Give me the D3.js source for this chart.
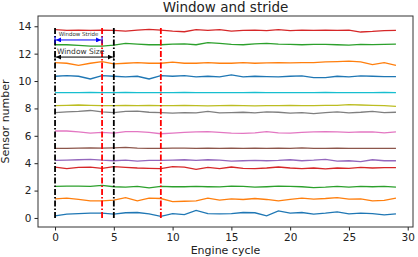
<!DOCTYPE html>
<html>
<head>
<meta charset="utf-8">
<script src="https://cdn.jsdelivr.net/npm/d3@7"></script>
<style>
body { margin: 0; background: #fff; }
svg { display: block; font-family: "DejaVu Sans", sans-serif; }
</style>
</head>
<body>
<script>
// cycles 0..29
var cycles = d3.range(30);

var s0 = [0.15,0.28,0.32,0.35,0.35,0.28,0.38,0.4,0.3,0.12,0.32,0.25,0.55,0.32,0.3,0.32,0.4,0.38,0.15,0.52,0.35,0.4,0.28,0.35,0.45,0.3,0.35,0.32,0.22,0.3];
var s1 = [1.4,1.45,1.35,1.25,1.25,1.3,1.48,1.25,1.45,1.42,1.2,1.22,1.25,1.45,1.3,1.4,1.35,1.42,1.35,1.25,1.35,1.45,1.38,1.42,1.48,1.38,1.4,1.25,1.28,1.45];
var s2 = [2.3,2.32,2.33,2.3,2.38,2.28,2.25,2.3,2.2,2.3,2.28,2.28,2.3,2.28,2.27,2.32,2.3,2.25,2.28,2.32,2.3,2.28,2.22,2.25,2.3,2.25,2.3,2.28,2.3,2.25];
var s3 = [3.72,3.6,3.7,3.72,3.62,3.75,3.7,3.65,3.62,3.6,3.75,3.72,3.55,3.7,3.6,3.72,3.62,3.6,3.65,3.72,3.65,3.6,3.65,3.58,3.65,3.62,3.7,3.65,3.68,3.68];
var s4 = [4.2,4.22,4.25,4.28,4.22,4.18,4.22,4.15,4.2,4.2,4.22,4.25,4.2,4.25,4.22,4.15,4.18,4.2,4.18,4.2,4.25,4.18,4.22,4.28,4.15,4.18,4.12,4.25,4.18,4.18];
var s5 = [5.08,5.08,5.1,5.12,5.1,5.12,5.15,5.1,5.08,5.08,5.1,5.1,5.08,5.1,5.08,5.1,5.08,5.1,5.08,5.1,5.08,5.12,5.08,5.08,5.1,5.08,5.08,5.08,5.08,5.08];
var s6 = [6.35,6.35,6.28,6.2,6.25,6.2,6.3,6.3,6.25,6.15,6.2,6.25,6.28,6.3,6.25,6.2,6.18,6.22,6.3,6.22,6.2,6.25,6.28,6.3,6.28,6.25,6.28,6.28,6.22,6.28];
var s7 = [7.7,7.75,7.78,7.85,7.75,7.7,7.78,7.8,7.72,7.7,7.65,7.7,7.68,7.78,7.68,7.7,7.72,7.68,7.75,7.72,7.65,7.7,7.62,7.7,7.75,7.68,7.72,7.78,7.7,7.72];
var s8 = [8.2,8.22,8.25,8.22,8.2,8.2,8.22,8.2,8.22,8.2,8.2,8.22,8.2,8.18,8.2,8.22,8.2,8.18,8.2,8.2,8.22,8.2,8.2,8.22,8.22,8.28,8.25,8.22,8.2,8.15];
var s9 = [9.15,9.15,9.15,9.17,9.15,9.15,9.17,9.15,9.15,9.15,9.15,9.17,9.15,9.15,9.15,9.15,9.15,9.17,9.15,9.15,9.15,9.15,9.15,9.17,9.15,9.15,9.15,9.15,9.17,9.15];
var s10 = [10.35,10.4,10.35,10.15,10.4,10.35,10.3,10.35,10.15,10.4,10.35,10.4,10.3,10.35,10.3,10.45,10.3,10.35,10.32,10.3,10.35,10.38,10.25,10.25,10.35,10.3,10.38,10.35,10.32,10.32];
var s11 = [11.35,11.3,11.15,11.3,11.42,11.25,11.3,11.35,11.3,11.3,11.38,11.3,11.3,11.35,11.3,11.3,11.35,11.3,11.32,11.35,11.32,11.35,11.35,11.4,11.42,11.45,11.4,11.2,11.35,11.15];
var s12 = [12.65,12.65,12.6,12.55,12.55,12.62,12.75,12.7,12.65,12.65,12.7,12.72,12.65,12.8,12.75,12.68,12.65,12.72,12.75,12.7,12.68,12.65,12.68,12.68,12.65,12.62,12.68,12.66,12.68,12.7];
var s13 = [13.75,13.7,13.72,13.7,13.72,13.7,13.65,13.72,13.78,13.72,13.65,13.6,13.75,13.7,13.75,13.65,13.7,13.72,13.68,13.75,13.68,13.72,13.7,13.72,13.7,13.72,13.58,13.62,13.68,13.7];

var series = [s0, s1, s2, s3, s4, s5, s6, s7, s8, s9, s10, s11, s12, s13];

// window markers
var windowStarts = [0, 5];   // black
var windowEnds = [4, 9];     // red
var markerSpan = [0, 13.9];

var xTicks = [0, 5, 10, 15, 20, 25, 30];
var yTicks = [0, 2, 4, 6, 8, 10, 12, 14];

var colors = ["#1f77b4","#ff7f0e","#2ca02c","#d62728","#9467bd","#8c564b","#e377c2","#7f7f7f","#bcbd22","#17becf"];

var width = 418, height = 257;
var padL = 38, padR = 413, padT = 16, padB = 227;

var svg = d3.select("body").append("svg")
	.attr("width", width)
	.attr("height", height);

var x = d3.scaleLinear().domain([-1.45, 30.45]).range([padL, padR]);
var y = d3.scaleLinear().domain([-0.66, 14.75]).range([padB, padT]);

// defs for arrow heads
var defs = svg.append("defs");
function addMarker(id, color) {
	defs.append("marker")
		.attr("id", id)
		.attr("viewBox", "0 0 10 10")
		.attr("refX", 10).attr("refY", 5)
		.attr("markerWidth", 5).attr("markerHeight", 5)
		.attr("markerUnits", "userSpaceOnUse")
		.attr("orient", "auto-start-reverse")
		.append("path")
		.attr("d", "M0,0 L10,5 L0,10 z")
		.attr("fill", color);
}
addMarker("arrBlue", "#0000ff");
addMarker("arrBlack", "#000");

// data lines
var line = d3.line()
	.x(function(d, i) { return x(cycles[i]); })
	.y(function(d) { return y(d); });

svg.append("g").selectAll("path")
	.data(series)
	.enter()
	.append("path")
	.attr("d", line)
	.attr("fill", "none")
	.attr("stroke", function(d, i) { return colors[i % 10]; })
	.attr("stroke-width", 1.3);

// vertical window markers
function vline(xv, color) {
	svg.append("line")
		.attr("x1", x(xv)).attr("x2", x(xv))
		.attr("y1", y(markerSpan[0])).attr("y2", y(markerSpan[1]))
		.attr("stroke", color)
		.attr("stroke-width", 1.8)
		.attr("stroke-dasharray", "6,2,1.5,2");
}
windowStarts.forEach(function(v) { vline(v, "#000"); });
windowEnds.forEach(function(v) { vline(v, "#ff0000"); });

// annotations
function arrow(x0, x1, yv, color, marker) {
	var g = svg.append("g");
	g.append("line")
		.attr("x1", x(x0) + 1).attr("x2", x(x1) - 1)
		.attr("y1", y(yv)).attr("y2", y(yv))
		.attr("stroke", color).attr("stroke-width", 1)
		.attr("marker-start", "url(#" + marker + ")")
		.attr("marker-end", "url(#" + marker + ")");
	[x0, x1].forEach(function(v) {
		g.append("line")
			.attr("x1", x(v)).attr("x2", x(v))
			.attr("y1", y(yv) - 3.5).attr("y2", y(yv) + 3.5)
			.attr("stroke", color).attr("stroke-width", 1);
	});
}
arrow(0, 4, 13.0, "#0000ff", "arrBlue");
arrow(0, 5, 11.75, "#000", "arrBlack");

svg.append("text")
	.attr("x", (x(0) + x(4)) / 2).attr("y", y(13.0) - 3.5)
	.attr("text-anchor", "middle")
	.attr("font-size", 5.5)
	.attr("fill", "#333")
	.text("Window Stride");

svg.append("text")
	.attr("x", x(0) + 2).attr("y", y(11.75) - 3)
	.attr("font-size", 7.5)
	.attr("fill", "#333")
	.text("Window Size");

// axes
var xAxis = svg.append("g")
	.attr("transform", "translate(0," + padB + ")")
	.call(d3.axisBottom(x).tickValues(xTicks).tickSize(3.5).tickPadding(3));
var yAxis = svg.append("g")
	.attr("transform", "translate(" + padL + ",0)")
	.call(d3.axisLeft(y).tickValues(yTicks).tickSize(3.5).tickPadding(3));

[xAxis, yAxis].forEach(function(a) {
	a.select(".domain").remove();
	a.selectAll("text")
		.attr("font-family", "DejaVu Sans, sans-serif")
		.attr("font-size", 10.5)
		.attr("fill", "#222");
	a.selectAll("line").attr("stroke", "#222");
});

// frame
svg.append("rect")
	.attr("x", padL).attr("y", padT)
	.attr("width", padR - padL).attr("height", padB - padT)
	.attr("fill", "none")
	.attr("stroke", "#333")
	.attr("stroke-width", 1);

// titles
svg.append("text")
	.attr("x", (padL + padR) / 2).attr("y", 12)
	.attr("text-anchor", "middle")
	.attr("font-size", 13.5)
	.attr("fill", "#222")
	.text("Window and stride");

svg.append("text")
	.attr("x", (padL + padR) / 2).attr("y", 254)
	.attr("text-anchor", "middle")
	.attr("font-size", 11)
	.attr("fill", "#222")
	.text("Engine cycle");

svg.append("text")
	.attr("transform", "translate(9," + ((padT + padB) / 2) + ") rotate(-90)")
	.attr("text-anchor", "middle")
	.attr("font-size", 11)
	.attr("fill", "#222")
	.text("Sensor number");
</script>
</body>
</html>
